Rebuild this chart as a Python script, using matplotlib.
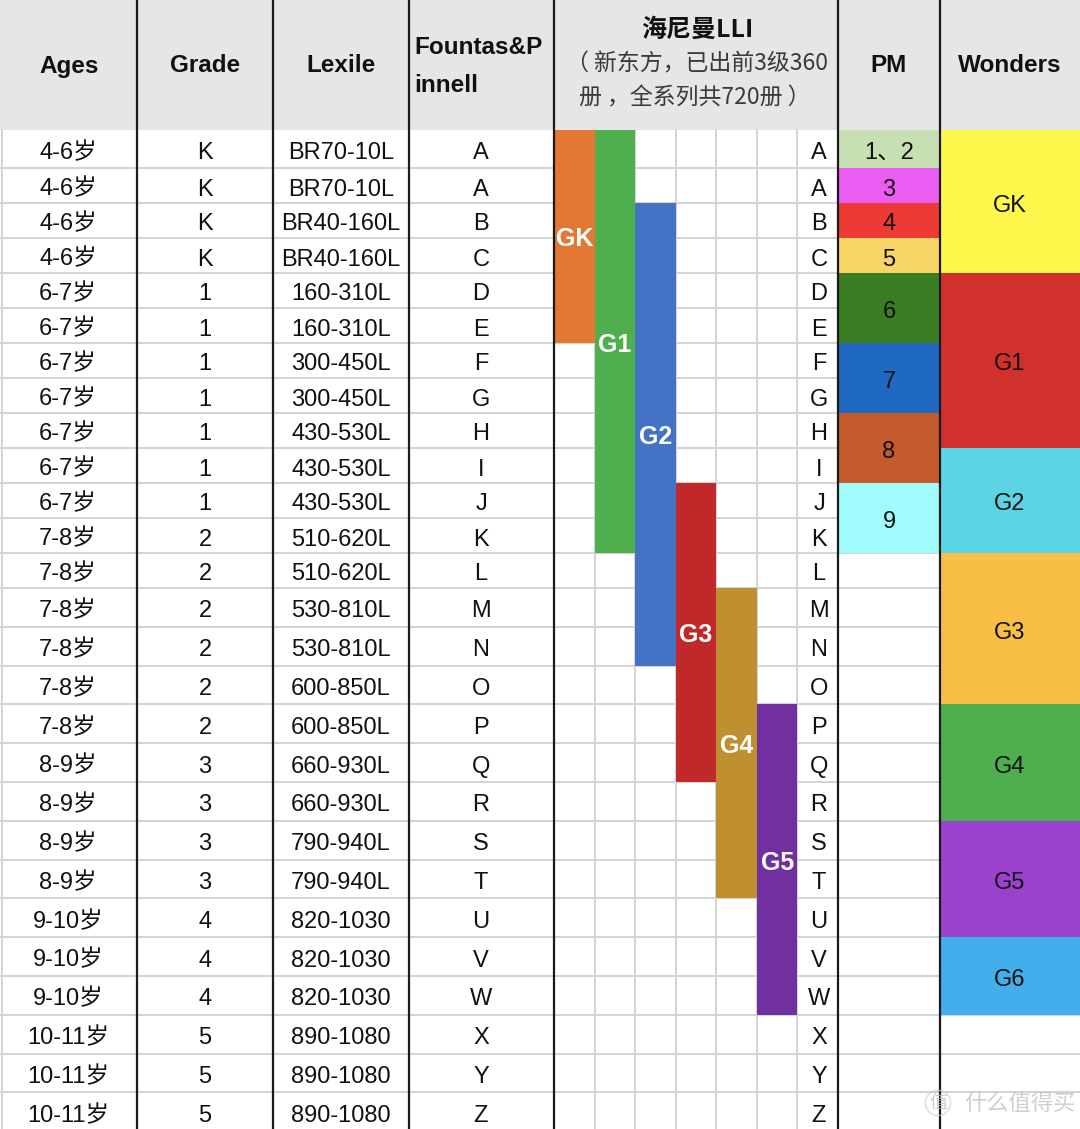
import numpy as np
import matplotlib.pyplot as plt
from matplotlib.patches import Rectangle

plt.rcParams['font.family'] = ['Liberation Sans', 'Noto Sans CJK SC', 'DejaVu Sans']

#### table contents
ages = ['4-6岁'] * 4 + ['6-7岁'] * 7 + ['7-8岁'] * 6 + ['8-9岁'] * 4 + ['9-10岁'] * 3 + ['10-11岁'] * 3
grades = ['K'] * 4 + ['1'] * 7 + ['2'] * 6 + ['3'] * 4 + ['4'] * 3 + ['5'] * 3
lexile = ['BR70-10L', 'BR70-10L', 'BR40-160L', 'BR40-160L', '160-310L', '160-310L',
          '300-450L', '300-450L', '430-530L', '430-530L', '430-530L', '510-620L',
          '510-620L', '530-810L', '530-810L', '600-850L', '600-850L', '660-930L',
          '660-930L', '790-940L', '790-940L', '820-1030', '820-1030', '820-1030',
          '890-1080', '890-1080', '890-1080']
fp_levels = ['A', 'A'] + list('BCDEFGHIJKLMNOPQRSTUVWXYZ')

# Heinemann LLI bands: first / last row index (inclusive)
lli_names = ['GK', 'G1', 'G2', 'G3', 'G4', 'G5']
lli_first = [0, 0, 2, 10, 13, 16]
lli_last = [5, 11, 14, 17, 20, 23]

# PM levels
pm_names = ['1、2', '3', '4', '5', '6', '7', '8', '9']
pm_first = [0, 1, 2, 3, 4, 6, 8, 10]
pm_last = [0, 1, 2, 3, 5, 7, 9, 11]

# Wonders grades
wd_names = ['GK', 'G1', 'G2', 'G3', 'G4', 'G5', 'G6']
wd_first = [0, 4, 9, 12, 16, 19, 22]
wd_last = [3, 8, 11, 15, 18, 21, 23]

#### colours
lli_colors = ['#E27834', '#4FAE4E', '#4472C4', '#C0282A', '#BF8F30', '#7030A0']
pm_colors = ['#C6E0B4', '#EB5CF3', '#EE3A35', '#F9D566', '#3A7D22', '#1F69C1', '#C55A2D', '#A0FCFC']
wd_colors = ['#FFF84C', '#D0312D', '#5BD5E4', '#F9BE44', '#4DAF4E', '#9B41CD', '#43AEEC']

#### layout (pixels)
W, H = 1080, 1129
header_h = 130
row_h = [38] + [35] * 12 + [38.8] * 14
row_edges = header_h + np.concatenate([[0], np.cumsum(row_h)])
col_edges = [0, 137, 273, 409, 554, 838, 940, 1080]
lli_sub = np.linspace(554, 838, 8)  # 7 sub-columns, last one holds the letters

fig = plt.figure(figsize=(W / 100, H / 100), dpi=100)
ax = fig.add_axes([0, 0, 1, 1])
ax.set_xlim(0, W)
ax.set_ylim(H, 0)
ax.axis('off')

grid_c = '#D3D3D3'
txt_c = '#111111'
cjk = ['Noto Sans CJK SC', 'DejaVu Sans']

# header background
ax.add_patch(Rectangle((0, 0), W, header_h, facecolor='#E6E6E6', edgecolor='none', zorder=0))

# horizontal grid lines
for y in row_edges[1:]:
    ax.plot([0, W], [y, y], color=grid_c, lw=1.4, zorder=1)
# vertical grid lines inside LLI and at left edge
for x in list(lli_sub[1:-1]) + [1.5]:
    ax.plot([x, x], [header_h, H], color=grid_c, lw=1.4, zorder=1)

def span_rect(x0, x1, r0, r1, color):
    y0, y1 = row_edges[r0], row_edges[r1 + 1]
    ax.add_patch(Rectangle((x0, y0), x1 - x0, y1 - y0, facecolor=color,
                           edgecolor='none', zorder=2))
    return (x0 + x1) / 2, (y0 + y1) / 2

# LLI bars
for i, name in enumerate(lli_names):
    cx, cy = span_rect(lli_sub[i], lli_sub[i + 1], lli_first[i], lli_last[i], lli_colors[i])
    ax.text(cx, cy + 10, name, color='white', fontsize=18, fontweight='bold',
            ha='center', va='baseline', zorder=4)

# PM cells
for i, name in enumerate(pm_names):
    cx, cy = span_rect(col_edges[5], col_edges[6], pm_first[i], pm_last[i], pm_colors[i])
    ax.text(cx, cy + 10, name, color=txt_c, fontsize=17, ha='center', va='baseline', zorder=4)

# Wonders cells
for i, name in enumerate(wd_names):
    cx, cy = span_rect(col_edges[6], col_edges[7], wd_first[i], wd_last[i], wd_colors[i])
    ax.text(cx, cy + 10, name, color=txt_c, fontsize=17, ha='center', va='baseline', zorder=4)

# body text
row_base = (row_edges[:-1] + row_edges[1:]) / 2 + 10
for r in range(len(ages)):
    for x, s in [(68, ages[r]), (205, grades[r]), (341, lexile[r]),
                 (481, fp_levels[r]), (819, fp_levels[r])]:
        ax.text(x, row_base[r], s, fontsize=17, ha='center', va='baseline',
                color=txt_c, zorder=4)

# black column separators
for x in col_edges[1:-1]:
    ax.plot([x, x], [0, H], color='#1A1A1A', lw=1.6, zorder=5)

# header text
hy = 66
ax.text(69, hy, 'Ages', fontsize=17.5, fontweight='bold', ha='center', va='center', color=txt_c)
ax.text(205, hy, 'Grade', fontsize=17.5, fontweight='bold', ha='center', va='center', color=txt_c)
ax.text(341, hy, 'Lexile', fontsize=17.5, fontweight='bold', ha='center', va='center', color=txt_c)
ax.text(414, 47, 'Fountas&P', fontsize=17.5, fontweight='bold', ha='left', va='center', color=txt_c)
ax.text(414, 86, 'innell', fontsize=17.5, fontweight='bold', ha='left', va='center', color=txt_c)
ax.text(697, 30, '海尼曼LLI', fontsize=18, fontweight='bold', ha='center', va='center', color=txt_c,
        family=cjk)
ax.text(697, 64, '（ 新东方，已出前3级360', fontsize=16.5, ha='center', va='center', color='#3A3A3A',
        family=cjk)
ax.text(695, 98, '册 ，全系列共720册 ）', fontsize=16.5, ha='center', va='center', color='#3A3A3A',
        family=cjk)
ax.text(889, hy, 'PM', fontsize=17.5, fontweight='bold', ha='center', va='center', color=txt_c)
ax.text(1010, hy, 'Wonders', fontsize=17.5, fontweight='bold', ha='center', va='center', color=txt_c)

# faint watermark
ax.text(1075, 1103, '什么值得买', fontsize=16, ha='right', va='center', color='#BBBBBB', alpha=0.7,
        family=['Noto Sans CJK SC'], zorder=6)
ax.text(938, 1103, '值', fontsize=13, ha='center', va='center', color='#BBBBBB', alpha=0.7,
        family=['Noto Sans CJK SC'], zorder=6,
        bbox=dict(boxstyle='circle,pad=0.2', facecolor='none', edgecolor='#CCCCCC', alpha=0.7))

fig.savefig('out.png', dpi=100)
